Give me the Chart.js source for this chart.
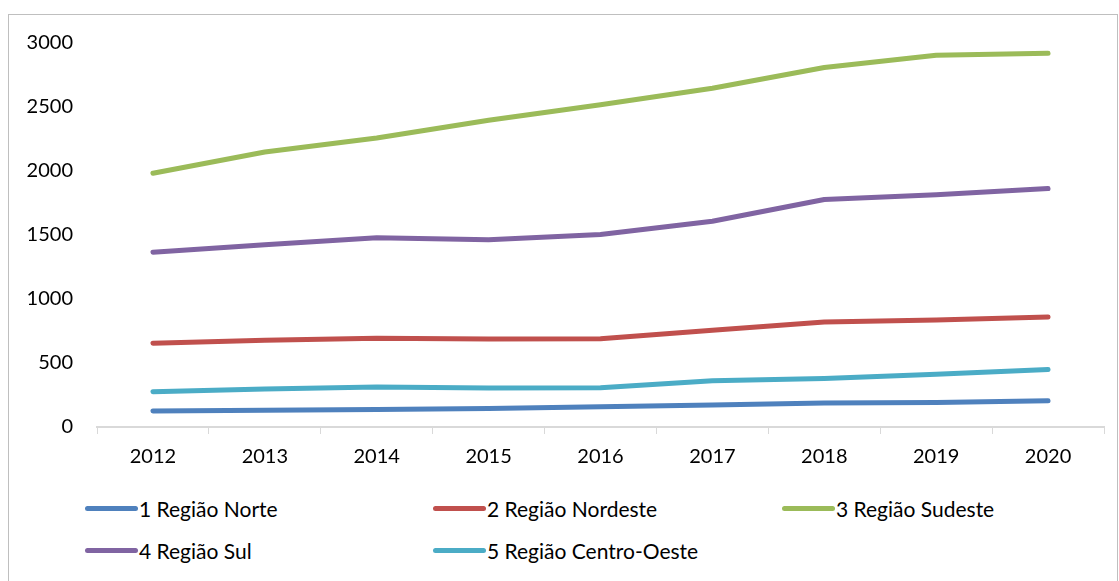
<!DOCTYPE html>
<html lang="pt">
<head>
    <meta charset="UTF-8">
    <title>Regiões 2012-2020</title>
    <script src="https://cdn.jsdelivr.net/npm/chart.js"></script>
    <style>
        body { margin: 0; background: #fff; font-family: Lato, "Open Sans", sans-serif; }
        .frame {
            position: absolute; left: 8px; top: 14px; width: 1110px; height: 600px;
            border: 1px solid #bfbfbf; box-sizing: border-box;
        }
        #chartWrap { position: absolute; left: 8px; top: 7px; width: 1111px; height: 484px; }
        .legend-item {
            position: absolute; display: flex; align-items: center;
            font-size: 21px; color: #000; white-space: nowrap;
        }
        .legend-item .swatch { width: 53px; height: 5px; border-radius: 3px; margin-right: 1px; }
    </style>
</head>
<body>
    <div class="frame"></div>
    <div id="chartWrap"><canvas id="regioesChart"></canvas></div>
    <div id="legend"></div>

    <script>
        const anos = ["2012", "2013", "2014", "2015", "2016", "2017", "2018", "2019", "2020"];
        const regioes = ["1 Região Norte", "2 Região Nordeste", "3 Região Sudeste", "4 Região Sul", "5 Região Centro-Oeste"];
        const cores = ["#4F81BD", "#C0504D", "#9BBB59", "#8064A2", "#4BACC6"];

        const norte = [125, 131, 137, 145, 158, 171, 187, 192, 205];
        const nordeste = [655, 678, 694, 688, 690, 756, 820, 836, 860];
        const sudeste = [1982, 2148, 2258, 2396, 2517, 2647, 2808, 2905, 2920];
        const sul = [1366, 1424, 1478, 1463, 1504, 1608, 1777, 1814, 1863];
        const centroOeste = [275, 296, 312, 304, 306, 361, 379, 413, 450];

        const series = [norte, nordeste, sudeste, sul, centroOeste];

        const datasets = series.map((valores, i) => ({
            label: regioes[i],
            data: valores,
            borderColor: cores[i],
            backgroundColor: cores[i],
            borderWidth: 5,
            borderCapStyle: "round",
            borderJoinStyle: "round",
            pointRadius: 0,
            tension: 0,
            fill: false
        }));

        const ctx = document.getElementById("regioesChart").getContext("2d");
        const regioesChart = new Chart(ctx, {
            type: "line",
            data: { labels: anos, datasets: datasets },
            options: {
                responsive: true,
                maintainAspectRatio: false,
                animation: false,
                layout: { padding: { top: 21, right: 15, left: 0, bottom: 0 } },
                plugins: {
                    legend: { display: false },
                    tooltip: { enabled: false }
                },
                scales: {
                    x: {
                        offset: true,
                        grid: {
                            offset: true,
                            drawOnChartArea: false,
                            tickLength: 7,
                            color: "#d9d9d9",
                            lineWidth: 1
                        },
                        border: { color: "#d9d9d9", width: 2 },
                        ticks: {
                            color: "#000",
                            padding: 11,
                            font: { family: "Lato", size: 20 }
                        },
                        afterFit: (scale) => { scale.height = 64; }
                    },
                    y: {
                        min: 0,
                        max: 3000,
                        grid: { display: false, drawTicks: false },
                        border: { display: false },
                        ticks: {
                            stepSize: 500,
                            color: "#000",
                            padding: 24,
                            font: { family: "Lato", size: 20 },
                            callback: (v) => String(v)
                        },
                        afterFit: (scale) => { scale.width = 89; }
                    }
                }
            }
        });

        // legenda em grade de três colunas, abaixo do gráfico
        const legend = document.getElementById("legend");
        const colX = [85, 433, 782];
        const rowY = [496, 538];
        regioesChart.data.datasets.forEach((ds, i) => {
            const item = document.createElement("div");
            item.className = "legend-item";
            item.style.left = colX[i % 3] + "px";
            item.style.top = rowY[Math.floor(i / 3)] + "px";
            item.innerHTML = `<span class="swatch" style="background:${ds.borderColor}"></span><span>${ds.label}</span>`;
            legend.appendChild(item);
        });
    </script>
</body>
</html>
